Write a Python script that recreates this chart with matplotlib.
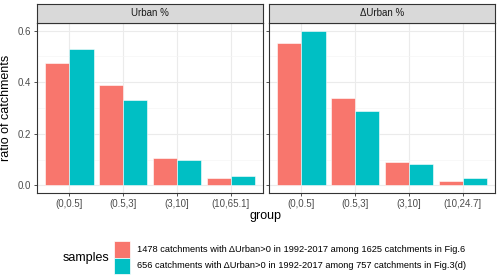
import numpy as np
import matplotlib.pyplot as plt
from matplotlib.patches import Rectangle

plt.rcParams['font.family'] = ['Liberation Sans', 'DejaVu Sans']

# данные
panels = ['Urban %', '\u0394Urban %']
groups_urban = ['(0,0.5]', '(0.5,3]', '(3,10]', '(10,65.1]']
groups_delta = ['(0,0.5]', '(0.5,3]', '(3,10]', '(10,24.7]']
fig6_urban = [0.473, 0.390, 0.104, 0.027]
fig3_urban = [0.529, 0.332, 0.098, 0.037]
fig6_delta = [0.553, 0.337, 0.089, 0.017]
fig3_delta = [0.600, 0.288, 0.083, 0.027]
series_labels = ['1478 catchments with \u0394Urban>0 in 1992-2017 among 1625 catchments in Fig.6',
                 '656 catchments with \u0394Urban>0 in 1992-2017 among 757 catchments in Fig.3(d)']
colors = ['#F8766D', '#00BFC4']

W, H = 500, 278
fig = plt.figure(figsize=(W / 100, H / 100), dpi=100)

def box(x0, y0, x1, y1):
    # пиксели -> доли фигуры
    return [x0 / W, 1 - y1 / H, (x1 - x0) / W, (y1 - y0) / H]

panel_px = [(37, 263), (269, 495)]
data = [(groups_urban, fig6_urban, fig3_urban), (groups_delta, fig6_delta, fig3_delta)]

for i, ((x0, x1), (groups, a, b)) in enumerate(zip(panel_px, data)):
    ax = fig.add_axes(box(x0, 23, x1, 193))
    x = np.arange(1, len(groups) + 1)
    w = 0.45
    ax.bar(x - w / 2, a, width=w, color=colors[0], edgecolor='white', linewidth=0.4, zorder=3)
    ax.bar(x + w / 2, b, width=w, color=colors[1], edgecolor='white', linewidth=0.4, zorder=3)
    ax.set_xlim(0.4, 4.6)
    ax.set_ylim(-0.03, 0.63)
    ax.set_xticks(x)
    ax.set_xticklabels(groups, fontsize=7, color='#4D4D4D')
    ax.set_yticks([0, 0.2, 0.4, 0.6])
    ax.set_yticks([0.1, 0.3, 0.5], minor=True)
    if i == 0:
        ax.set_yticklabels(['0.0', '0.2', '0.4', '0.6'], fontsize=7, color='#4D4D4D')
        ax.set_ylabel('ratio of catchments', fontsize=9, labelpad=4)
    else:
        ax.set_yticklabels([])
        ax.tick_params(axis='y', length=0)
    ax.tick_params(axis='both', which='major', length=2.5, width=0.6, color='#333333', pad=2)
    ax.tick_params(axis='y', which='minor', length=0)
    ax.grid(True, which='major', color='#EBEBEB', linewidth=0.8, zorder=0)
    ax.grid(True, which='minor', axis='y', color='#F5F5F5', linewidth=0.5, zorder=0)
    for s in ax.spines.values():
        s.set_color('#333333')
        s.set_linewidth(0.8)
    ax.set_axisbelow(True)

    # полоса с заголовком панели
    sax = fig.add_axes(box(x0, 4, x1, 23))
    sax.set_xticks([])
    sax.set_yticks([])
    sax.set_facecolor('#D9D9D9')
    for s in sax.spines.values():
        s.set_color('#333333')
        s.set_linewidth(0.8)
    sax.text(0.5, 0.5, panels[i], ha='center', va='center', fontsize=7, color='#1A1A1A',
             transform=sax.transAxes)

fig.text(266 / W, 1 - 216 / H, 'group', ha='center', va='center', fontsize=9)

# легенда
fig.text(63 / W, 1 - 258 / H, 'samples', ha='left', va='center', fontsize=9)
for j, lab in enumerate(series_labels):
    y0 = 241 + j * 16.5
    fig.patches.append(Rectangle((114 / W, 1 - (y0 + 16.5) / H), 16 / W, 16.5 / H,
                                 transform=fig.transFigure, facecolor=colors[j],
                                 edgecolor='white', linewidth=0.5))
    fig.text(137 / W, 1 - (y0 + 8.3) / H, lab, ha='left', va='center', fontsize=6.7)

fig.savefig('out.png', dpi=100)
